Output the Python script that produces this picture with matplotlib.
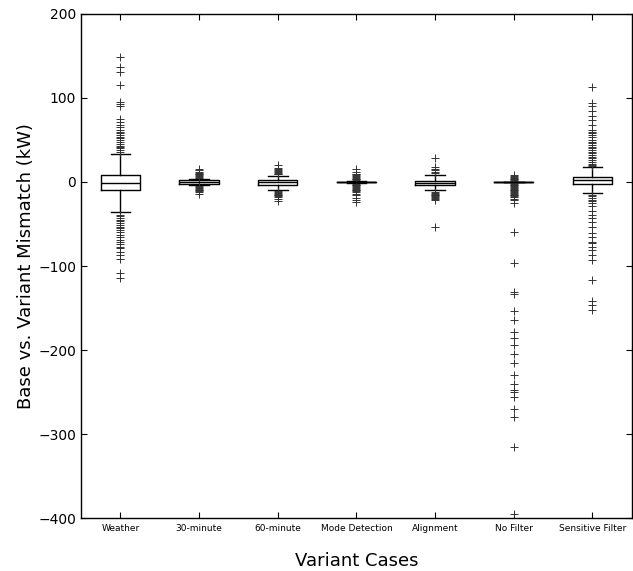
import matplotlib
matplotlib.use("Agg")
import matplotlib.pyplot as plt

# Variant cases along the x axis
categories = ["Weather", "30-minute", "60-minute", "Mode Detection",
              "Alignment", "No Filter", "Sensitive Filter"]

# Box statistics per case (kW)
q1 = [-9.9, -2.2, -3.2, -0.5, -4.0, -0.3, -2.4]
medians = [-1.5, 0.0, -0.5, 0.0, -1.0, 0.0, 2.4]
q3 = [8.3, 2.2, 2.0, 0.5, 1.6, 0.3, 6.3]
whisker_low = [-35.7, -3.5, -9.0, -1.0, -10.0, -0.5, -13.0]
whisker_high = [33.7, 3.5, 7.5, 1.0, 8.0, 0.5, 17.5]

# Outlying points per case (kW)
fliers_weather = [149, 137, 131, 116, 95, 93, 90, 75, 72, 68, 65, 62, 60, 58,
                  56, 54, 52, 50, 48, 45, 43, 42, 40, 38, 36,
                  -39, -41, -43, -45, -47, -49, -51, -53, -55, -57, -60, -63,
                  -66, -69, -72, -74, -77, -79, -83, -87, -92, -108, -114]
fliers_30min = [16, 14, 12, 11, 10, 9, 8, 7, 6, 5,
                -5, -6, -7, -8, -9, -10, -11, -12, -14]
fliers_60min = [20, 17, 15, 14, 13, 12, 11, 10, 9,
                -11, -12, -13, -14, -15, -16, -17, -18, -20, -23]
fliers_mode = [15, 12, 10, 9, 8, 7, 6, 5, 4, 3, 2,
               -2, -3, -4, -5, -6, -7, -8, -9, -10, -11, -12, -14, -16,
               -19, -22, -24]
fliers_align = [28, 18, 16, 14, 12, 10.5,
                -11.5, -13, -14, -15, -16, -17, -18, -19, -20, -21, -53]
fliers_nofilter = [8, 7, 6, 5, 4, 3, 2, 1, -1, -2, -3, -4, -5, -6, -7, -8,
                   -9, -10, -11, -12, -13, -14, -15, -16, -17, -18, -20, -22,
                   -25, -60, -97, -131, -133, -154, -164, -179, -186, -194,
                   -205, -215, -230, -240, -248, -250, -256, -270, -280,
                   -316, -395]
fliers_sensitive = [113, 94, 90, 85, 79, 74, 68, 62, 60, 58, 56, 54, 50, 48,
                    46, 44, 42, 40, 38, 36, 34, 32, 30, 28, 26, 24, 22, 20,
                    19, -15, -17, -19, -21, -23, -25, -29, -35, -39, -43, -48,
                    -54, -61, -65, -71, -73, -77, -81, -87, -93, -117, -142,
                    -147, -152]
fliers = [fliers_weather, fliers_30min, fliers_60min, fliers_mode,
          fliers_align, fliers_nofilter, fliers_sensitive]

y_ticks = [-400, -300, -200, -100, 0, 100, 200]

stats = []
for i, name in enumerate(categories):
    stats.append(dict(label=name, q1=q1[i], med=medians[i], q3=q3[i],
                      whislo=whisker_low[i], whishi=whisker_high[i],
                      fliers=fliers[i]))

fig = plt.figure(figsize=(6.33, 5.71), dpi=100)
ax = fig.add_axes([0.128, 0.0928, 0.870, 0.8827])

line_kw = dict(color="black", linewidth=1.0)
ax.bxp(stats, widths=0.5,
       boxprops=line_kw, whiskerprops=dict(color="black", linewidth=1.0,
                                           linestyle="-"),
       capprops=line_kw, medianprops=line_kw,
       flierprops=dict(marker="+", markersize=6, markeredgecolor="#333333",
                       markeredgewidth=0.7, linestyle="none"))

ax.set_xlim(0.5, 7.5)
ax.set_ylim(-400, 200)
ax.set_yticks(y_ticks)
ax.set_xticks(range(1, len(categories) + 1))
ax.set_xticklabels(categories, fontsize=6.5)
ax.tick_params(axis="y", labelsize=10)
ax.tick_params(direction="in", top=True, right=True, length=4, width=0.8)
ax.tick_params(axis="x", pad=4)

ax.set_ylabel("Base vs. Variant Mismatch (kW)", fontsize=13, labelpad=2)
ax.set_xlabel("Variant Cases", fontsize=13, labelpad=14)

for s in ax.spines.values():
    s.set_linewidth(1.0)
    s.set_color("black")

fig.savefig("out.png", dpi=100)
